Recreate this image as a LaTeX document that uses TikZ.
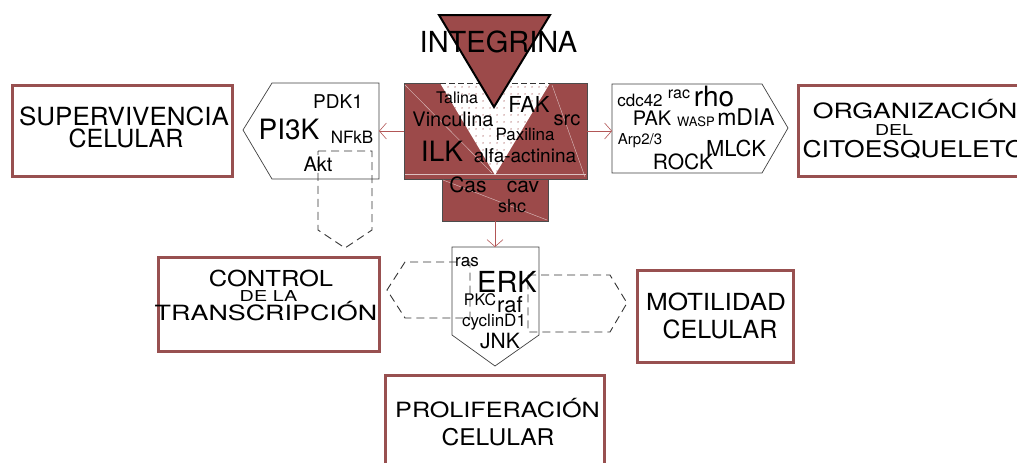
\documentclass[tikz,border=0pt]{standalone}
\usepackage{fontspec}
\setmainfont{TeX Gyre Heros}
\usepackage{tikz}
\usetikzlibrary{arrows.meta,patterns.meta}
\definecolor{cellred}{RGB}{156,74,74}
\definecolor{boxred}{RGB}{152,80,80}
\definecolor{sigred}{RGB}{178,86,86}
\newcommand{\fsz}[1]{\fontsize{#1}{#1}\selectfont}

\begin{document}
\begin{tikzpicture}[x=1pt,y=-1pt,
    lbl/.style={inner sep=0pt},
    outline/.style={inner sep=0pt,anchor=base},
    outbox/.style={draw=boxred,line width=3pt,fill=white},
    cplx/.style={draw=black!70,line width=0.6pt,fill=cellred,inner sep=0pt},
    sigbox/.style={draw=black!75,line width=0.7pt,fill=white},
    ghost/.style={draw=black!80,line width=0.9pt,dash pattern=on 8pt off 5pt},
    sig/.style={draw=sigred,line width=0.6pt,-{Straight Barb[length=7pt,width=16pt]}}]
        \useasboundingbox (0,0) rectangle (1017,463);
        \clip (0,0) rectangle (1017,463);

        % Draw the adhesion complex
        \node[cplx,minimum width=183pt,minimum height=96pt] (cplx) at (495.5,131) {};
        \node[cplx,minimum width=106pt,minimum height=42pt] (cplxlow) at (495,200) {};
        \draw[white!65!cellred,line width=0.4pt] (405,85) -- (492,173);
        \draw[white!65!cellred,line width=0.4pt] (552,85) -- (585,177);
        \draw[white!65!cellred,line width=0.4pt] (405,174) -- (586,174);
        \draw[white!65!cellred,line width=0.4pt] (443,180) -- (547,220);

        % Draw the dotted white triangle
        \fill[white] (440,83) -- (550,83) -- (495,175) -- cycle;
        \fill[pattern={Dots[distance=6.5pt,radius=0.75pt]},pattern color=cellred] (440,83) -- (550,83) -- (495,175) -- cycle;
        \draw[black!80,line width=0.8pt,dash pattern=on 6pt off 3pt] (440,83) -- (550,83);

        % Draw the integrin triangle
        \draw[fill=cellred,line width=2pt] (439,15) -- (550,15) -- (494,107) -- cycle;
        \node[lbl,font=\fsz{29}] (integ) at (498.5,42) {INTEGRINA};

        % Labels in the complex
        \node[lbl,font=\fsz{16}] (talin) at (457,98) {Talina};
        \node[lbl,font=\fsz{22}] (fak) at (529,104) {FAK};
        \node[lbl,font=\fsz{20}] (vinc) at (453,119) {Vinculina};
        \node[lbl,font=\fsz{20}] (src) at (567,120) {src};
        \node[lbl,font=\fsz{17}] (paxil) at (525,134) {Paxilina};
        \node[lbl,font=\fsz{28}] (ilk) at (442,151) {ILK};
        \node[lbl,font=\fsz{19}] (actin) at (525,156) {alfa-actinina};
        \node[lbl,font=\fsz{21}] (cas) at (468,185) {Cas};
        \node[lbl,font=\fsz{21}] (cav) at (523,187) {cav};
        \node[lbl,font=\fsz{18}] (shc) at (512,206) {shc};

        % Draw the PI3K pathway (pointing left)
        \draw[sigbox] (243,130) -- (272,83) -- (379,83) -- (379,179) -- (272,179) -- cycle;
        \coordinate (pik-e) at (379,131);
        \draw[ghost] (318,151) -- (372,151) -- (372,230) -- (345,248) -- (318,230) -- cycle;
        \node[lbl,font=\fsz{19}] (pdk) at (338,102) {PDK1};
        \node[lbl,font=\fsz{28}] (pik) at (289,130) {PI3K};
        \node[lbl,font=\fsz{17}] (nfkb) at (352,137) {NFkB};
        \node[lbl,font=\fsz{20}] (akt) at (318,164) {Akt};

        % Draw the cytoskeleton pathway (pointing right)
        \draw[sigbox] (612,84) -- (762,84) -- (788,128) -- (762,173) -- (612,173) -- cycle;
        \coordinate (cdc-w) at (612,131);
        \node[lbl,font=\fsz{17}] (cdc) at (640,100) {cdc42};
        \node[lbl,font=\fsz{16}] (rac) at (679,94) {rac};
        \node[lbl,font=\fsz{28}] (rho) at (714,97) {rho};
        \node[lbl,font=\fsz{20}] (pak) at (652,118) {PAK};
        \node[lbl,font=\fsz{13}] (wasp) at (696,122) {WASP};
        \node[lbl,font=\fsz{23}] (mdia) at (746,117) {mDIA};
        \node[lbl,font=\fsz{15}] (arp) at (640,141) {Arp2/3};
        \node[lbl,font=\fsz{22}] (mlck) at (736,148) {MLCK};
        \node[lbl,font=\fsz{21}] (rock) at (683,162) {ROCK};

        % Draw the MAPK pathway (pointing down)
        \draw[sigbox] (452,247) -- (539,247) -- (539,335) -- (495,366) -- (452,335) -- cycle;
        \coordinate (erk-n) at (495,247);
        \draw[ghost] (470,262) -- (405,262) -- (387,290) -- (405,318) -- (470,318) -- cycle;
        \draw[ghost] (528,275) -- (610,275) -- (627,303) -- (610,332) -- (528,332) -- cycle;
        \node[lbl,font=\fsz{17}] (ras) at (467,262) {ras};
        \node[lbl,font=\fsz{29}] (erk) at (507,282) {ERK};
        \node[lbl,font=\fsz{16}] (pkc) at (480,300) {PKC};
        \node[lbl,font=\fsz{22}] (raf) at (510,305) {raf};
        \node[lbl,font=\fsz{17}] (cyclin) at (494,322) {cyclinD1};
        \node[lbl,font=\fsz{21}] (jnk) at (500,341) {JNK};

        % Signals out of the complex
        \draw[sig] (cplx.west) -- (pik-e);
        \draw[sig] (cplx.east) -- (cdc-w);
        \draw[sig] (cplxlow.south) -- (erk-n);

        % Cell responses
        \draw[outbox] (12,85) rectangle (232,176);
        \node[outline,font=\fsz{25}] (superv) at (124,125) {\scalebox{1.04}[1]{SUPERVIVENCIA}};
        \node[outline,font=\fsz{25}] (superv-b) at (126,147) {CELULAR};

        \draw[outbox] (798,85) rectangle (1040,176);
        \node[outline,font=\fsz{21}] (organiz) at (915,118) {\scalebox{1.27}[1]{ORGANIZACIÓN}};
        \node[outline,font=\fsz{15}] (organiz-m) at (894,135) {\scalebox{1.3}[1]{DEL}};
        \node[outline,font=\fsz{23}] (organiz-b) at (914,157) {\scalebox{1.15}[1]{CITOESQUELETO}};

        \draw[outbox] (158,257) rectangle (379,351);
        \node[outline,font=\fsz{22}] (control) at (271,286) {\scalebox{1.16}[1]{CONTROL}};
        \node[outline,font=\fsz{15}] (control-m) at (268.5,301) {\scalebox{1.32}[1]{DE LA}};
        \node[outline,font=\fsz{21}] (control-b) at (266,320) {\scalebox{1.28}[1]{TRANSCRIPCIÓN}};

        \draw[outbox] (637,270) rectangle (793,362);
        \node[outline,font=\fsz{23.5}] (motil) at (716,310) {\scalebox{1.11}[1]{MOTILIDAD}};
        \node[outline,font=\fsz{25}] (motil-b) at (720,338) {CELULAR};

        \draw[outbox] (385,375) rectangle (604,480);
        \node[outline,font=\fsz{21}] (prolif) at (497.5,417) {\scalebox{1.2}[1]{PROLIFERACIÓN}};
        \node[outline,font=\fsz{23}] (prolif-b) at (498,445) {\scalebox{1.07}[1]{CELULAR}};

\end{tikzpicture}
\end{document}
